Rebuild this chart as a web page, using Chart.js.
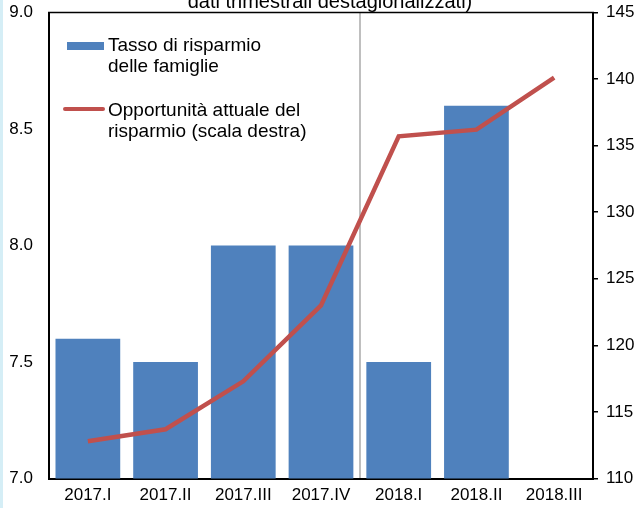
<!DOCTYPE html>
<html>
<head>
<meta charset="utf-8">
<script src="https://cdn.jsdelivr.net/npm/chart.js@4.4.0/dist/chart.umd.min.js"></script>
<style>
  html, body { margin: 0; padding: 0; background: #fff; }
  #wrap { width: 642px; height: 508px; position: relative; }
</style>
</head>
<body>
<div id="wrap"><canvas id="chart" width="642" height="508"></canvas></div>
<script>
// dati
const categories = ["2017.I", "2017.II", "2017.III", "2017.IV", "2018.I", "2018.II", "2018.III"];
const tassoRisparmio = [7.6, 7.5, 8.0, 8.0, 7.5, 8.6, null];
const opportunita = [112.8, 113.7, 117.3, 123.0, 135.7, 136.2, 140.1];
const leftTicks = [7.0, 7.5, 8.0, 8.5, 9.0];
const rightTicks = [110, 115, 120, 125, 130, 135, 140, 145];

const FONT = "'Liberation Sans', Arial, sans-serif";
const BLUE = "#4F81BD", RED = "#C0504D";

// striscia azzurra a sinistra, bordo superiore, titolo tagliato
const decor = {
  id: "decor",
  beforeDraw(chart) {
    const c = chart.ctx;
    c.save();
    c.fillStyle = "#D5EEF6";
    c.fillRect(0, 0, 3, chart.height);
    c.restore();
  },
  afterDraw(chart) {
    const c = chart.ctx, a = chart.chartArea;
    c.save();
    c.strokeStyle = "#000";
    c.lineWidth = 1.5;
    c.beginPath();
    c.moveTo(a.left - 1, a.top);
    c.lineTo(a.right + 1, a.top);
    c.stroke();
    c.fillStyle = "#000";
    c.font = "20px " + FONT;
    c.textAlign = "center";
    c.textBaseline = "alphabetic";
    c.fillText("dati trimestrali destagionalizzati)", 330, 7.5);
    c.restore();
  }
};

// legenda su due righe disegnata a mano
const legendBox = {
  id: "legendBox",
  afterDatasetsDraw(chart) {
    const c = chart.ctx;
    const ds = chart.data.datasets;
    c.save();
    c.font = "19px " + FONT;
    c.textBaseline = "middle";
    c.textAlign = "left";
    c.fillStyle = ds[0].backgroundColor;
    c.fillRect(67, 42, 37, 8);
    c.fillStyle = "#000";
    ds[0].label.forEach((t, i) => c.fillText(t, 108, 46 + i * 21));
    c.strokeStyle = ds[1].borderColor;
    c.lineWidth = 4;
    c.lineCap = "round";
    c.beginPath();
    c.moveTo(65, 109);
    c.lineTo(103, 109);
    c.stroke();
    ds[1].label.forEach((t, i) => c.fillText(t, 108, 111 + i * 21));
    c.restore();
  }
};

function noPad(s) {
  s.paddingTop = 0;
  s.paddingBottom = 0;
  s.paddingLeft = 0;
  s.paddingRight = 0;
}

new Chart(document.getElementById("chart"), {
  data: {
    labels: categories,
    datasets: [
      {
        type: "bar",
        label: ["Tasso di risparmio", "delle famiglie"],
        data: tassoRisparmio,
        backgroundColor: BLUE,
        borderWidth: 0,
        yAxisID: "y",
        barPercentage: 0.833,
        categoryPercentage: 1,
        order: 2
      },
      {
        type: "line",
        label: ["Opportunità attuale del", "risparmio (scala destra)"],
        data: opportunita,
        borderColor: RED,
        backgroundColor: RED,
        borderWidth: 4.5,
        pointRadius: 0,
        tension: 0,
        yAxisID: "y1",
        order: 1
      }
    ]
  },
  options: {
    responsive: false,
    animation: false,
    layout: { padding: { top: 12.5, left: 0, right: 0, bottom: 0 } },
    plugins: { legend: { display: false }, tooltip: { enabled: false }, title: { display: false } },
    scales: {
      x: {
        grid: {
          offset: true,
          drawTicks: false,
          lineWidth: 2,
          color: (ctx) => ctx.index === 4 ? "#BFBFBF" : "rgba(0,0,0,0)"
        },
        border: { color: "#000", width: 2 },
        ticks: { color: "#000", font: { family: FONT, size: 17 }, padding: 7, maxRotation: 0, autoSkip: false },
        afterFit(s) { s.height = 29.5; noPad(s); }
      },
      y: {
        position: "left",
        min: 7, max: 9,
        afterBuildTicks(s) { s.ticks = leftTicks.map(v => ({ value: v })); },
        grid: { display: false, drawTicks: false },
        border: { color: "#000", width: 2 },
        ticks: {
          color: "#000", font: { family: FONT, size: 17 }, padding: 16,
          callback: (v) => v.toFixed(1)
        },
        afterFit(s) { s.width = 49; noPad(s); }
      },
      y1: {
        position: "right",
        min: 110, max: 145,
        afterBuildTicks(s) { s.ticks = rightTicks.map(v => ({ value: v })); },
        grid: { drawOnChartArea: false, drawTicks: true, tickLength: 5, color: "#000", lineWidth: 1.5 },
        border: { color: "#000", width: 2 },
        ticks: { color: "#000", font: { family: FONT, size: 17 }, padding: 8 },
        afterFit(s) { s.width = 49; noPad(s); }
      }
    }
  },
  plugins: [decor, legendBox]
});
</script>
</body>
</html>
